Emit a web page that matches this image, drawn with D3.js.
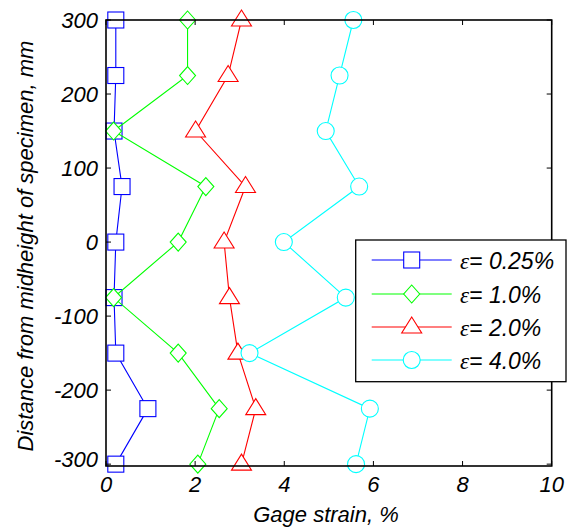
<!DOCTYPE html>
<html><head><meta charset="utf-8">
<script src="https://cdn.jsdelivr.net/npm/d3@7"></script>
<style>body{margin:0;background:#fff}</style>
</head><body>
<svg id="c" width="576" height="532"></svg>
<script>
const distances = [300, 225, 150, 75, 0, -75, -150, -225, -300];
const strain025 = [0.22, 0.22, 0.18, 0.36, 0.22, 0.18, 0.22, 0.94, 0.22];
const strain10  = [1.83, 1.83, 0.17, 2.24, 1.62, 0.17, 1.62, 2.54, 2.06];
const strain20  = [3.04, 2.74, 2.01, 3.13, 2.65, 2.77, 2.96, 3.36, 3.04];
const strain40  = [5.55, 5.24, 4.93, 5.68, 3.99, 5.38, 3.22, 5.92, 5.61];
const seriesLabels = ["= 0.25%", "= 1.0%", "= 2.0%", "= 4.0%"];
const xTicks = [0, 2, 4, 6, 8, 10];
const yTicks = [300, 200, 100, 0, -100, -200, -300];

const series = [
  {vals: strain025, color: "#0000ff", shape: "square", label: seriesLabels[0]},
  {vals: strain10,  color: "#00ff00", shape: "diamond", label: seriesLabels[1]},
  {vals: strain20,  color: "#ff0000", shape: "triangle", label: seriesLabels[2]},
  {vals: strain40,  color: "#00ffff", shape: "circle", label: seriesLabels[3]}
];

const svg = d3.select("#c");
const L = 106, R = 551.7, T = 20, B = 466;
const x = d3.scaleLinear().domain([0, 10]).range([L, R]);
const y = d3.scaleLinear().domain([-302.5, 300]).range([B, T]);
const font = "Arial, 'Liberation Sans', sans-serif";

function marker(g, shape, cx, cy, color) {
  let el;
  if (shape === "square") {
    el = g.append("rect").attr("x", cx - 8).attr("y", cy - 8).attr("width", 16).attr("height", 16);
  } else if (shape === "diamond") {
    el = g.append("path").attr("d", `M${cx},${cy-9}L${cx+8},${cy}L${cx},${cy+9}L${cx-8},${cy}Z`);
  } else if (shape === "triangle") {
    el = g.append("path").attr("d", `M${cx},${cy-10}L${cx+10},${cy+6}L${cx-10},${cy+6}Z`);
  } else {
    el = g.append("circle").attr("cx", cx).attr("cy", cy).attr("r", 8.5);
  }
  el.attr("fill", "#fff").attr("stroke", color).attr("stroke-width", 1.1);
}

// series
const line = d3.line().x(d => x(d[0])).y(d => y(d[1]));
series.forEach(s => {
  const pts = s.vals.map((v, i) => [v, distances[i]]);
  svg.append("path").attr("d", line(pts)).attr("fill", "none")
    .attr("stroke", s.color).attr("stroke-width", 1.1);
  const g = svg.append("g");
  pts.forEach(p => marker(g, s.shape, x(p[0]), y(p[1]), s.color));
});

// frame + ticks
const axG = svg.append("g");
const tl = 5;
xTicks.forEach(t => {
  axG.append("line").attr("x1", x(t)).attr("x2", x(t)).attr("y1", B).attr("y2", B - tl).attr("stroke", "#000");
  axG.append("line").attr("x1", x(t)).attr("x2", x(t)).attr("y1", T).attr("y2", T + tl).attr("stroke", "#000");
  axG.append("text").attr("x", x(t)).attr("y", 492).attr("text-anchor", "middle")
    .attr("font-family", font).attr("font-style", "italic").attr("font-size", 22).text(t);
});
yTicks.forEach(t => {
  axG.append("line").attr("x1", L).attr("x2", L + tl).attr("y1", y(t)).attr("y2", y(t)).attr("stroke", "#000");
  axG.append("line").attr("x1", R).attr("x2", R - tl).attr("y1", y(t)).attr("y2", y(t)).attr("stroke", "#000");
  axG.append("text").attr("x", 98).attr("y", Math.min(y(t), 459) + 8).attr("text-anchor", "end")
    .attr("font-family", font).attr("font-style", "italic").attr("font-size", 22).text(t);
});
axG.append("rect").attr("x", L).attr("y", T).attr("width", R - L).attr("height", B - T)
  .attr("fill", "none").attr("stroke", "#000").attr("stroke-width", 1.6);

// axis titles
svg.append("text").attr("x", 326).attr("y", 522).attr("text-anchor", "middle")
  .attr("font-family", font).attr("font-style", "italic").attr("font-size", 22).text("Gage strain, %");
svg.append("text").attr("transform", "translate(33,246) rotate(-90)").attr("text-anchor", "middle")
  .attr("font-family", font).attr("font-style", "italic").attr("font-size", 22)
  .text("Distance from midheight of specimen, mm");

// legend
const lg = svg.append("g");
lg.append("rect").attr("x", 355.7).attr("y", 240).attr("width", 210.3).attr("height", 141.7)
  .attr("fill", "#fff").attr("stroke", "#000").attr("stroke-width", 1.3);
const rowsY = [260, 294, 327, 360];
series.forEach((s, i) => {
  const ry = rowsY[i];
  lg.append("line").attr("x1", 371.7).attr("x2", 451.7).attr("y1", ry).attr("y2", ry)
    .attr("stroke", s.color).attr("stroke-width", 1.1);
  marker(lg, s.shape, 411.7, ry, s.color);
  const t = lg.append("text").attr("x", 460).attr("y", ry + 9)
    .attr("font-style", "italic").attr("font-size", 23);
  t.append("tspan").attr("font-family", "'Liberation Serif', 'DejaVu Serif', serif").text("ε");
  t.append("tspan").attr("font-family", font).text(s.label);
});
</script>
</body></html>
